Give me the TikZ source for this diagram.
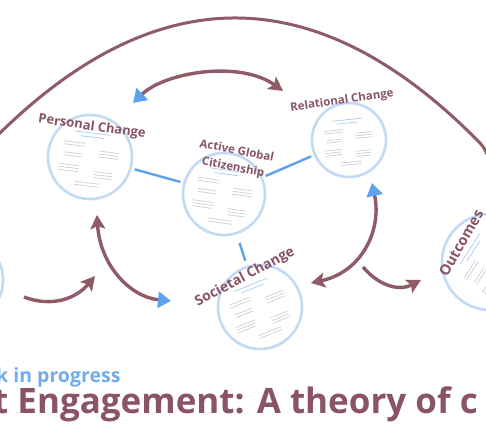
\documentclass[tikz,border=0pt]{standalone}
\usepackage{fontspec}
\setmainfont{Open Sans}
\usetikzlibrary{arrows.meta}
\definecolor{maroon}{HTML}{8E5B66}
\definecolor{titlec}{HTML}{8A5464}
\definecolor{bluel}{HTML}{5DA2EE}
\definecolor{ring}{HTML}{C2DAF3}
\definecolor{scrib}{HTML}{CDCDD4}
\definecolor{scribb}{HTML}{B3CFEE}
\definecolor{wip}{HTML}{74ACEA}
\tikzset{
  ringnode/.style={circle, draw=ring, line width=2.6pt, fill=white, inner sep=0pt},
  ctitle/.style={text=titlec, font=\bfseries, inner sep=0pt},
  link/.style={draw=bluel, line width=2.4pt, shorten <=3pt, shorten >=3pt},
  flow/.style={draw=maroon, line width=3.4pt},
  mhead/.tip={Stealth[length=14pt,width=15pt,inset=3pt,color=maroon]},
  bhead/.tip={Triangle[length=13pt,width=16pt,color=bluel]},
  scribble/.pic={
    \draw[scribb, line width=0.8pt] (-18,-24) -- (18,-24);
    \draw[scribb, line width=0.8pt] (-12,-20) -- (12,-20);
    \foreach \y in {-13,-10} \draw[scrib, line width=0.7pt] (-28,\y) -- (-6,\y);
    \foreach \y in {-2,1} \draw[scrib, line width=0.7pt] (-26,\y) -- (-8,\y);
    \foreach \y in {10,13,16} \draw[scrib, line width=0.7pt] (-30,\y) -- (-10,\y);
    \foreach \y in {-7,-4,-1} \draw[scrib, line width=0.7pt] (8,\y) -- (28,\y);
    \foreach \y in {14,17,20} \draw[scrib, line width=0.7pt] (6,\y) -- (24,\y);
    \foreach \y in {26,29} \draw[scrib, line width=0.7pt] (-12,\y) -- (12,\y);
  }
}
\begin{document}
\begin{tikzpicture}[x=1pt,y=-1pt]
\useasboundingbox (0,0) rectangle (486,442);
\clip (0,0) rectangle (486,442);
\fill[white] (0,0) rectangle (486,442);

% big arc
\coordinate (arcL) at (-10,143);
\coordinate (arcR) at (480,143);
\coordinate (arcE) at (496,185);
\draw[maroon, line width=3pt] (arcL) .. controls (153.3,-23.7) and (316.7,-23.7) .. (arcR) .. controls (487,150) and (492,165) .. (arcE);

% circles
\node[ringnode, minimum size=84] (pc) at (90,157) {};
\node[ringnode, minimum size=82] (agc) at (224,194) {};
\node[ringnode, minimum size=74] (rc) at (349,140) {};
\node[ringnode, minimum size=84] (sc) at (260,307) {};
\node[ringnode, minimum size=96] (oc) at (490,262) {};
\node[ringnode, minimum size=88] (lc) at (-41,280) {};

\pic[rotate=-7] at (pc) {scribble};
\pic[rotate=-8] at (agc) {scribble};
\pic[rotate=6, scale=0.85] at (rc) {scribble};
\pic[rotate=22] at (sc) {scribble};
\pic[rotate=57] at (oc) {scribble};

% titles
\node[ctitle, font=\bfseries\fontsize{13}{15}\selectfont, rotate=-8] (tpc) at (92,127) {Personal Change};
\node[ctitle, font=\bfseries\fontsize{11.5}{14}\selectfont, rotate=-11] (tagc1) at (237,150) {Active Global};
\node[ctitle, font=\bfseries\fontsize{11.5}{14}\selectfont, rotate=-11] (tagc2) at (233,168) {Citizenship};
\node[ctitle, font=\bfseries\fontsize{11.5}{14}\selectfont, rotate=8] (trc) at (342,101) {Relational Change};
\node[ctitle, font=\bfseries\fontsize{14}{16}\selectfont, rotate=28] (tsc) at (245,277) {Societal Change};
\node[ctitle, font=\bfseries\fontsize{14.5}{17}\selectfont, rotate=60] (toc) at (461,243) {Outcomes};

% blue links
\draw[link] (pc) -- (agc);
\draw[link] (agc) -- (rc);
\draw[link, shorten <=9pt, shorten >=5pt] (agc) -- (sc);

% arrow end points
\coordinate (a1s) at (133,103);
\coordinate (a1e) at (283,91);
\coordinate (a2s) at (24,297);
\coordinate (a2e) at (95,276);
\coordinate (a3s) at (97,215);
\coordinate (a3e) at (171,301);
\coordinate (a4s) at (372,183);
\coordinate (a4e) at (311,283);
\coordinate (a5s) at (363,267);
\coordinate (a5e) at (421,280);

\draw[flow, {bhead}-{mhead}] (a1s) .. controls (165,72) and (240,60) .. (a1e);
\draw[flow, -{mhead}] (a2s) .. controls (50,307) and (75,300) .. (a2e);
\draw[flow, {mhead}-{bhead}] (a3s) .. controls (100,265) and (130,297) .. (a3e);
\draw[flow, {bhead}-{mhead}] (a4s) .. controls (382,230) and (362,272) .. (a4e);
\draw[flow, -{mhead}] (a5s) .. controls (380,287) and (400,291) .. (a5e);

% bottom texts
\node[anchor=base west, inner sep=0pt, text=wip, font=\bfseries\fontsize{19.5}{22}\selectfont] (wipt) at (-4,382) {k in progress};
\node[anchor=base west, inner sep=0pt, text=titlec, font=\bfseries\fontsize{35}{40}\selectfont] (maint) at (-7,413) {t Engagement: A theory of c};
\end{tikzpicture}
\end{document}
